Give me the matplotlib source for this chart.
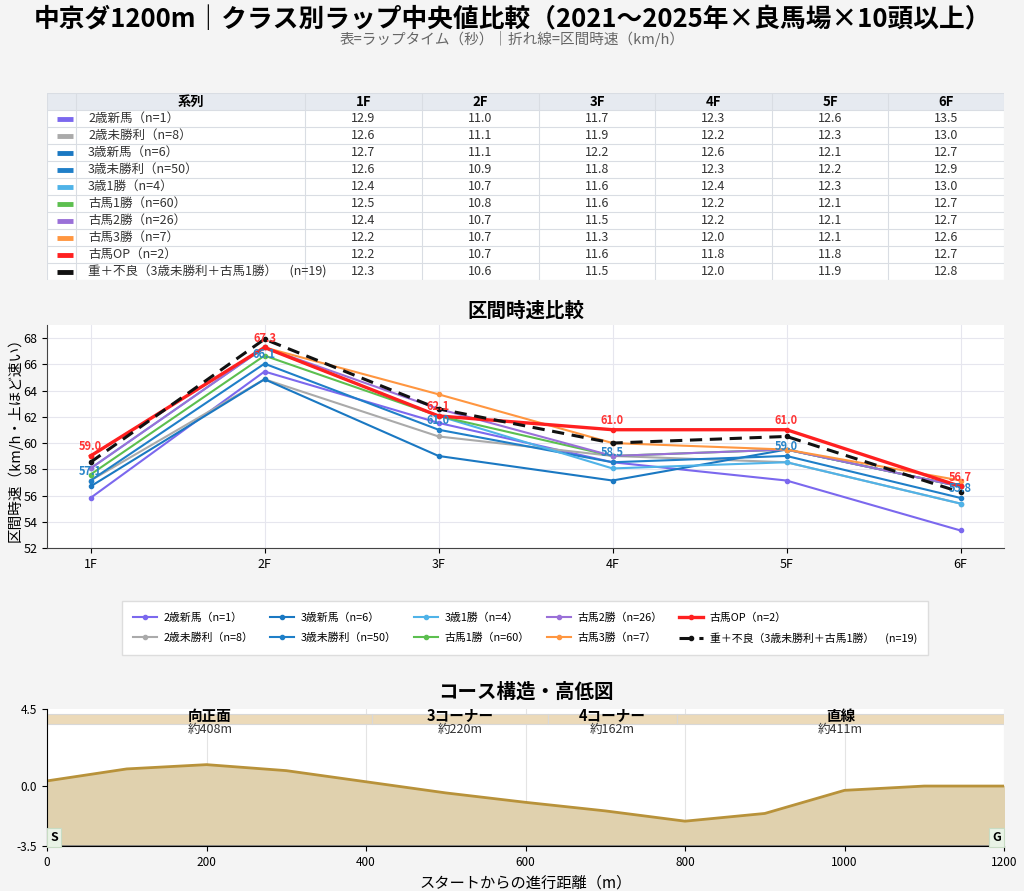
import matplotlib
matplotlib.use('Agg')
import matplotlib.pyplot as plt
from matplotlib.patches import Rectangle
import numpy as np

plt.rcParams['font.family'] = ['Noto Sans CJK JP', 'DejaVu Sans']

# データ
furlongs = ['1F', '2F', '3F', '4F', '5F', '6F']
series_names = ['2歳新馬（n=1）', '2歳未勝利（n=8）', '3歳新馬（n=6）', '3歳未勝利（n=50）',
                '3歳1勝（n=4）', '古馬1勝（n=60）', '古馬2勝（n=26）', '古馬3勝（n=7）',
                '古馬OP（n=2）', '重＋不良（3歳未勝利＋古馬1勝）　(n=19)']
laps = [
    [12.9, 11.0, 11.7, 12.3, 12.6, 13.5],
    [12.6, 11.1, 11.9, 12.2, 12.3, 13.0],
    [12.7, 11.1, 12.2, 12.6, 12.1, 12.7],
    [12.6, 10.9, 11.8, 12.3, 12.2, 12.9],
    [12.4, 10.7, 11.6, 12.4, 12.3, 13.0],
    [12.5, 10.8, 11.6, 12.2, 12.1, 12.7],
    [12.4, 10.7, 11.5, 12.2, 12.1, 12.7],
    [12.2, 10.7, 11.3, 12.0, 12.1, 12.6],
    [12.2, 10.7, 11.6, 11.8, 11.8, 12.7],
    [12.3, 10.6, 11.5, 12.0, 11.9, 12.8],
]
colors = ['#7b68ee', '#aaaaaa', '#1a78c2', '#1f7fc8', '#4fb3e8',
          '#5cbf4f', '#9a70d8', '#ff9640', '#ff2020', '#111111']
labeled = {8: '#ff3333', 3: '#2a85c8'}  # 値ラベルを付ける系列

# 高低図
dist = [0, 100, 200, 300, 400, 500, 600, 700, 800, 900, 1000, 1100, 1200]
elev = [0.3, 1.0, 1.25, 0.9, 0.25, -0.4, -0.95, -1.45, -2.05, -1.6, -0.25, 0.0, 0.0]
sections = ['向正面', '3コーナー', '4コーナー', '直線']
sec_bounds = [0, 408, 628, 790, 1200]
sec_len = ['約408m', '約220m', '約162m', '約411m']

# 区間時速（200m / ラップ）
speeds = [[200 / t * 3.6 for t in row] for row in laps]

bg = '#f4f4f4'
fig = plt.figure(figsize=(10.24, 8.91), dpi=100, facecolor=bg)

fig.text(0.5, 0.978, '中京ダ1200m｜クラス別ラップ中央値比較（2021〜2025年×良馬場×10頭以上）',
         ha='center', va='center', fontsize=18.5, fontweight='bold')
fig.text(0.5, 0.956, '表=ラップタイム（秒）｜折れ線=区間時速（km/h）',
         ha='center', va='center', fontsize=10.5, color='#666666')

# ---- 表 ----
axt = fig.add_axes([0.0459, 0.6857, 0.9346, 0.2099])
axt.set_xlim(47, 1004)
axt.set_ylim(11, 0)
axt.axis('off')
edges = [47, 76, 305, 422, 539, 655, 772, 888, 1004]
grid_c = '#d9dde3'
axt.add_patch(Rectangle((47, 0), 957, 1, facecolor='#e6eaf0', edgecolor='none'))
axt.add_patch(Rectangle((47, 1), 957, 10, facecolor='white', edgecolor='none'))
for r in range(12):
    axt.plot([47, 1004], [r, r], color=grid_c, lw=0.8)
for e in edges:
    axt.plot([e, e], [0, 11], color=grid_c, lw=0.8)
axt.text((edges[1] + edges[2]) / 2, 0.5, '系列', ha='center', va='center',
         fontsize=9.5, fontweight='bold')
for j, f in enumerate(furlongs):
    axt.text((edges[j + 2] + edges[j + 3]) / 2, 0.5, f, ha='center', va='center',
             fontsize=9.5, fontweight='bold')
for i, name in enumerate(series_names):
    y = i + 1.5
    axt.plot([57, 73], [y, y], color=colors[i], lw=3.5, solid_capstyle='butt')
    axt.text(88, y, name, ha='left', va='center', fontsize=9, color='#333333')
    for j, v in enumerate(laps[i]):
        axt.text((edges[j + 2] + edges[j + 3]) / 2, y, f'{v:.1f}', ha='center',
                 va='center', fontsize=9, color='#333333')

# ---- 区間時速 ----
ax = fig.add_axes([0.0459, 0.3850, 0.9346, 0.2502])
x = np.arange(len(furlongs))
handles = []
for i, name in enumerate(series_names):
    if i == 9:
        h, = ax.plot(x, speeds[i], color=colors[i], lw=2.2, ls=(0, (4, 2.5)),
                     marker='o', ms=3, label=name, zorder=5)
    elif i == 8:
        h, = ax.plot(x, speeds[i], color=colors[i], lw=2.4, marker='o', ms=3,
                     label=name, zorder=4)
    else:
        h, = ax.plot(x, speeds[i], color=colors[i], lw=1.5, marker='o', ms=3,
                     label=name, zorder=3)
    handles.append(h)
for i, c in labeled.items():
    for xi, v in zip(x, speeds[i]):
        ax.annotate(f'{v:.1f}', (xi, v), xytext=(0, 2), textcoords='offset points',
                    ha='center', va='bottom', fontsize=8, fontweight='bold', color=c,
                    zorder=6)
ax.set_xlim(-0.25, 5.25)
ax.set_ylim(52, 69)
ax.set_yticks(range(52, 69, 2))
ax.set_xticks(x)
ax.set_xticklabels(furlongs)
ax.tick_params(labelsize=9)
ax.grid(True, color='#e6e6ee', lw=0.8)
ax.set_axisbelow(True)
for s in ['top', 'right']:
    ax.spines[s].set_visible(False)
ax.spines['left'].set_color('#444444')
ax.spines['bottom'].set_color('#444444')
ax.set_ylabel('区間時速（km/h・上ほど速い）', fontsize=10.5)
ax.yaxis.set_label_coords(-0.025, 0.5)
ax.set_title('区間時速比較', fontsize=14, fontweight='bold', pad=6)

fig.legend(handles=handles, loc='center', bbox_to_anchor=(0.5127, 0.2952), ncol=5,
           fontsize=7.8, frameon=True, edgecolor='#dddddd', facecolor='white',
           framealpha=1, handlelength=2.2, handletextpad=0.6, columnspacing=1.6,
           borderpad=1.0, labelspacing=0.9, fancybox=False)

# ---- 高低図 ----
axe = fig.add_axes([0.0459, 0.0505, 0.9346, 0.1538])
axe.fill_between(dist, -3.5, elev, color='#e0d1ae', zorder=1)
axe.plot(dist, elev, color='#b8923a', lw=2, zorder=2)
axe.axhline(-3.5, color='#777777', lw=1.2, zorder=3)
for k in range(4):
    a, b = sec_bounds[k], sec_bounds[k + 1]
    axe.add_patch(Rectangle((a, 3.65), b - a, 0.55, facecolor='#ecdab9',
                            edgecolor='#d8d8d8', lw=0.8, zorder=2))
    axe.text((a + b) / 2, 4.08, sections[k], ha='center', va='center',
             fontsize=10.5, fontweight='bold', zorder=4)
    axe.text((a + b) / 2, 3.3, sec_len[k], ha='center', va='center',
             fontsize=9, color='#333333', zorder=4)
axe.text(4, -3.0, 'S', ha='left', va='center', fontsize=9, fontweight='bold',
         bbox=dict(boxstyle='square,pad=0.25', facecolor='#e9f3e6',
                   edgecolor='#c8dcc4', lw=0.8), zorder=5)
axe.text(1196, -3.0, 'G', ha='right', va='center', fontsize=9, fontweight='bold',
         bbox=dict(boxstyle='square,pad=0.25', facecolor='#e9f3e6',
                   edgecolor='#c8dcc4', lw=0.8), zorder=5)
axe.set_xlim(0, 1200)
axe.set_ylim(-3.5, 4.5)
axe.set_yticks([-3.5, 0.0, 4.5])
axe.set_yticklabels(['-3.5', '0.0', '4.5'])
axe.set_xticks(range(0, 1201, 200))
axe.tick_params(labelsize=8.5)
axe.grid(True, axis='x', color='#e4e4e4', lw=0.8)
axe.set_axisbelow(True)
for s in ['top', 'right']:
    axe.spines[s].set_visible(False)
axe.set_xlabel('スタートからの進行距離（m）', fontsize=11)
axe.set_title('コース構造・高低図', fontsize=14, fontweight='bold', pad=8)

fig.savefig('out.png', dpi=100, facecolor=bg)
